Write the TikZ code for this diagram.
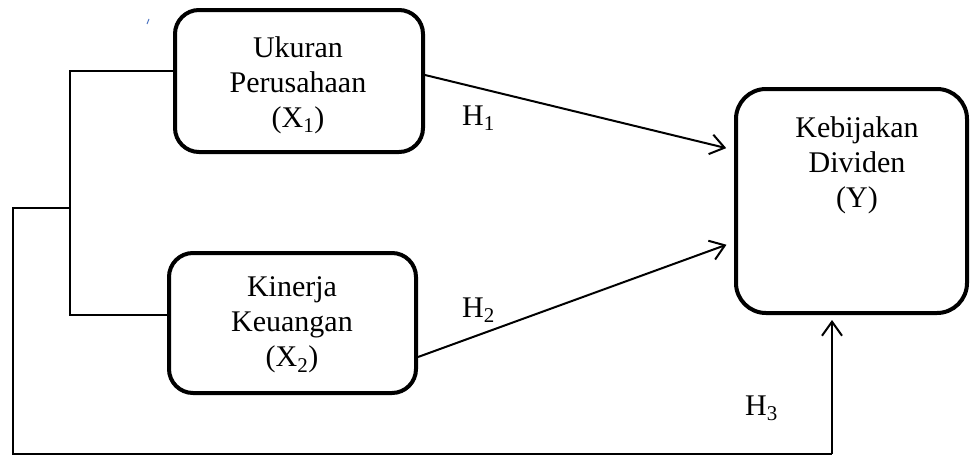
\documentclass[tikz,border=0pt]{standalone}
\usepackage{fontspec}
\setmainfont{Liberation Serif}
\usetikzlibrary{arrows.meta}
\definecolor{tickblue}{HTML}{4A72C0}
\begin{document}
\begin{tikzpicture}[x=1pt,y=-1pt,
  varbox/.style={draw, line width=4pt, inner sep=0pt},
  vartext/.style={align=center, inner sep=0pt, font=\fontsize{30}{35}\selectfont},
  hyp/.style={inner sep=0pt, anchor=base west, font=\fontsize{30}{35}\selectfont},
  link/.style={line width=1.3pt},
  effect/.style={line width=2pt, -{Straight Barb[length=14pt,width=20pt]}}
]
\useasboundingbox (0,0) rectangle (971,455);

% variable boxes
\node[varbox, rounded corners=24pt, minimum width=248pt, minimum height=142pt] (X1) at (299,81) {};
\node[varbox, rounded corners=24pt, minimum width=247pt, minimum height=140pt] (X2) at (292.5,323) {};
\node[varbox, rounded corners=30pt, minimum width=231pt, minimum height=224pt] (Y) at (851.5,201) {};

% box captions
\node[vartext] (X1t) at (298,85) {Ukuran\\Perusahaan\\(X\textsubscript{1})};
\node[vartext] (X2t) at (292,325) {Kinerja\\Keuangan\\(X\textsubscript{2})};
\node[vartext] (Yt) at (857,165) {Kebijakan\\Dividen\\(Y)};

% joint path of X1 and X2 towards Y
\coordinate (j1) at (70,71);
\coordinate (j2) at (70,315);
\coordinate (j3) at (70,208);
\coordinate (c1) at (13,208);
\coordinate (c2) at (13,454);
\coordinate (c3) at (832,454);

\draw[link] (X1.west |- j1) -- (j1) -- (j2) -- (X2.west |- j2);
\draw[link] (j3) -- (c1) -- (c2) -- (c3);

% hypothesis arrows
\draw[effect, shorten >=8pt] (X1.east |- 0,75) -- (Y.west |- 0,150);
\draw[effect, shorten >=8pt] (X2.east |- 0,357) -- (Y.west |- 0,242);
\draw[effect, shorten >=5pt] (c3) -- (Y.south -| c3);

% hypothesis labels
\node[hyp] (H1) at (462,125) {H\textsubscript{1}};
\node[hyp] (H2) at (462,317) {H\textsubscript{2}};
\node[hyp] (H3) at (745,415) {H\textsubscript{3}};

% small stray stroke
\draw[tickblue, line width=1pt] (149,19) -- (147,24);
\end{tikzpicture}
\end{document}
